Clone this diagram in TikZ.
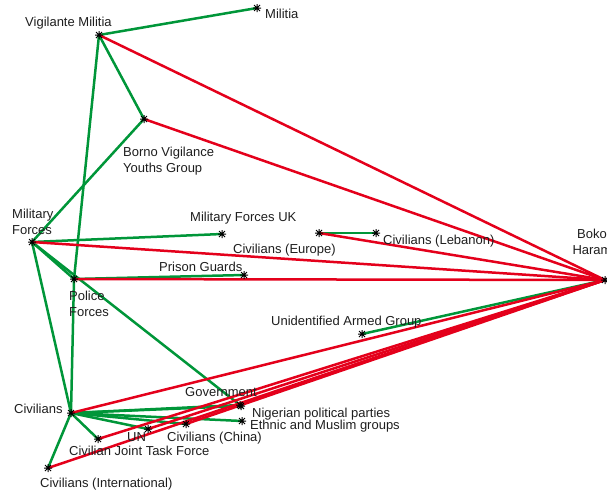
\documentclass[tikz,border=0pt]{standalone}
\usepackage{fontspec}
\setmainfont{Liberation Sans}
\usetikzlibrary{calc}
\definecolor{allyg}{RGB}{0,150,57}
\definecolor{enemyr}{RGB}{228,0,27}
\definecolor{txt}{RGB}{30,30,30}
\begin{document}
\begin{tikzpicture}[x=1pt,y=-1pt,
  pt/.style={inner sep=0pt,minimum size=0pt},
  lbl/.style={font=\fontsize{13}{15.5}\selectfont,inner sep=0pt,text=txt,anchor=west,text height=9.4pt,text depth=0pt},
  lbl2/.style={font=\fontsize{13}{15.5}\selectfont,inner sep=0pt,text=txt,anchor=west,align=left},
  ally/.style={draw=allyg,line width=2.5pt},
  enemy/.style={draw=enemyr,line width=2.5pt},
  starmark/.style={line width=1pt,black}
]
\useasboundingbox (0,0) rectangle (607,490);
% nodes
\node[pt] (vm)  at (99,35) {};
\node[pt] (mil) at (257,8) {};
\node[pt] (bv)  at (144,119) {};
\node[pt] (mf)  at (32,242) {};
\node[pt] (mfuk) at (222,234) {};
\node[pt] (eur) at (319,233) {};
\node[pt] (leb) at (376,233) {};
\node[pt] (pg)  at (244,275) {};
\node[pt] (pf)  at (74,279) {};
\node[pt] (bh)  at (605,280) {};
\node[pt] (uag) at (362,334) {};
\node[pt] (civ) at (71,413) {};
\node[pt] (gov) at (240,405) {};
\node[pt] (npp) at (241,406) {};
\node[pt] (eth) at (242,421) {};
\node[pt] (un)  at (148,429) {};
\node[pt] (chn) at (186,424) {};
\node[pt] (cjtf) at (98,439) {};
\node[pt] (int) at (48,468) {};
% green edges
\foreach \a/\b in {vm/mil,vm/bv,vm/pf,bv/mf,mf/mfuk,mf/pf,mf/gov,mf/civ,pf/civ,pf/pg,eur/leb,uag/bh,civ/gov,civ/npp,civ/eth,civ/un,civ/chn,civ/cjtf,civ/int}
  \draw[ally] (\a) -- (\b);
% red edges
\foreach \a in {vm,bv,mf,eur,pf,civ,cjtf,un,chn,int}
  \draw[enemy] (\a) -- (bh);
% star markers
\foreach \n in {vm,mil,bv,mf,mfuk,eur,leb,pg,pf,bh,uag,civ,gov,npp,eth,un,chn,cjtf,int}
  \draw[starmark] ($(\n)+(-4,0)$) -- ($(\n)+(4,0)$)
                  ($(\n)+(0,-4)$) -- ($(\n)+(0,4)$)
                  ($(\n)+(-3,-3)$) -- ($(\n)+(3,3)$)
                  ($(\n)+(-3,3)$) -- ($(\n)+(3,-3)$);
% labels
\node[lbl] (lvm) at (25,22) {Vigilante Militia};
\node[lbl] (lmil) at (265,14) {Militia};
\node[lbl2] (lbv) at (123,161) {Borno Vigilance\\Youths Group};
\node[lbl2] (lmf) at (12,222) {Military\\Forces};
\node[lbl] (lmfuk) at (190,217) {Military Forces UK};
\node[lbl] (leur) at (233,249) {Civilians (Europe)};
\node[lbl] (lleb) at (383,240) {Civilians (Lebanon)};
\node[font=\fontsize{13}{15.5}\selectfont,inner sep=0pt,text=txt,align=center] (lbh) at (592,242) {Boko\\Haram};
\node[lbl] (lpg) at (159,267) {Prison Guards};
\node[lbl2] (lpf) at (69,304) {Police\\Forces};
\node[lbl] (luag) at (271,321) {Unidentified Armed Group};
\node[lbl] (lgov) at (185,392) {Government};
\node[lbl] (lnpp) at (252,413) {Nigerian political parties};
\node[lbl] (leth) at (250,425) {Ethnic and Muslim groups};
\node[lbl] (lun) at (127,437) {UN};
\node[lbl] (lchn) at (167,437) {Civilians (China)};
\node[lbl] (lcjtf) at (69,451) {Civilian Joint Task Force};
\node[lbl] (lint) at (40,483) {Civilians (International)};
\node[lbl] (lciv) at (14,409) {Civilians};
\end{tikzpicture}
\end{document}
